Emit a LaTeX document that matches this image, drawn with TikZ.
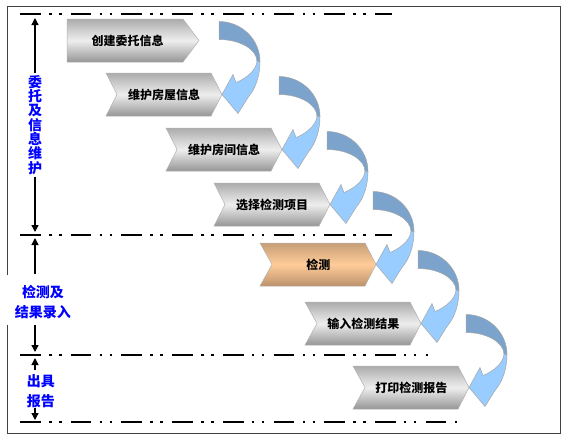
\documentclass[tikz,border=0pt]{standalone}
\usepackage{fontspec}
\newfontfamily\cjk{Noto Sans CJK SC}
\usetikzlibrary{arrows.meta}
\definecolor{arrdark}{RGB}{123,163,204}
\definecolor{arrlight}{RGB}{153,204,255}
\definecolor{gtop}{RGB}{172,172,172}
\definecolor{gmid}{RGB}{238,238,238}
\definecolor{gbot}{RGB}{150,150,150}
\definecolor{otop}{RGB}{198,158,118}
\definecolor{omid}{RGB}{255,204,153}
\definecolor{obot}{RGB}{188,146,108}
\definecolor{lblue}{RGB}{0,0,255}
\tikzset{
  graychev/.style={top color=gtop, bottom color=gbot, middle color=gmid, draw=black!30, line width=0.5pt},
  orangechev/.style={top color=otop, bottom color=obot, middle color=omid, draw=black!30, line width=0.5pt},
  chevlabel/.style={font=\cjk\bfseries\fontsize{12}{14}\selectfont, inner sep=0pt, text=black},
  sidelabel/.style={font=\cjk\bfseries\fontsize{14}{20.5}\selectfont, text=lblue, align=center, inner sep=0pt},
  vertlabel/.style={font=\cjk\bfseries\fontsize{14}{14.3}\selectfont, text=lblue, align=center, inner sep=2pt},
  scalearrow/.style={-{Triangle[length=7pt,width=7pt]}, line width=1.3pt, black},
  sepline/.style={line width=2.8pt, black, dash pattern=on 20.7pt off 8.3pt on 2.5pt off 7.5pt on 2.5pt off 9.2pt},
  pics/curvarrow/.style={code={
    \path[fill=arrdark, draw=black!35, line width=0.5pt]
      (-3,-73) .. controls (19.6,-73) and (38,-55) .. (38,-33)
      -- (35,-33) .. controls (35,-45) and (18,-55) .. (-3,-55) -- cycle;
    \path[fill=arrlight, draw=black!35, line width=0.5pt]
      (38,-33) .. controls (38,-18) and (33,-5) .. (26,3)
      -- (16,19) -- (0,0) -- (11,-20) -- (14,-12)
      .. controls (24,-16) and (34,-24) .. (35,-33) -- cycle;
  }}
}
% name, x, ytop, width, notch, tipdepth, style, label
\newcommand\chevshape[8]{%
  \path[#7] (#2,#3) -- ({#2+#4-#6},#3) -- ({#2+#4},{#3+21.5}) -- ({#2+#4-#6},{#3+43})
    -- (#2,{#3+43}) -- ({#2+#5},{#3+21.5}) -- cycle;
  \coordinate (#1tip) at ({#2+#4},{#3+21.5});
  \node[chevlabel] (#1) at ({#2+#4/2-(#6-#5)/3},{#3+21.5}) {#8};
}
\begin{document}
\begin{tikzpicture}[x=1pt,y=-1pt]
\useasboundingbox (0,0) rectangle (571,442);
% frame with gap behind the middle label
\draw[black!75, line width=1pt] (7,275) -- (7,6) -- (560,6) -- (560,433) -- (7,433) -- (7,325);
% separator lines
\coordinate (s1a) at (20,14);  \coordinate (s1b) at (392,14);
\coordinate (s2a) at (20,235); \coordinate (s2b) at (392,235);
\coordinate (s3a) at (20,355); \coordinate (s3b) at (428,355);
\coordinate (s4a) at (20,422); \coordinate (s4b) at (457,422);
\draw[sepline] (s1a) -- (s1b);
\draw[sepline] (s2a) -- (s2b);
\draw[sepline] (s3a) -- (s3b);
\draw[sepline] (s4a) -- (s4b);
% phase labels and scale arrows
\node[vertlabel] (lab1) at (35,125) {委\\托\\及\\信\\息\\维\\护};
\coordinate (v1a) at (35,18);
\coordinate (v1b) at (35,232);
\draw[scalearrow] (lab1.north) -- (v1a);
\draw[scalearrow] (lab1.south) -- (v1b);
\node[sidelabel] (lab2) at (43,302) {检测及\\结果录入};
\coordinate (v2s) at (35,274); \coordinate (v2a) at (35,238);
\coordinate (v2e) at (35,325); \coordinate (v2b) at (35,352);
\draw[scalearrow] (v2s) -- (v2a);
\draw[scalearrow] (v2e) -- (v2b);
\node[sidelabel] (lab3) at (41,391) {出具\\报告};
\coordinate (v3s) at (35,370); \coordinate (v3a) at (35,358);
\coordinate (v3e) at (35,408); \coordinate (v3b) at (35,420);
\draw[scalearrow] (v3s) -- (v3a);
\draw[scalearrow] (v3e) -- (v3b);
% process steps
\chevshape{c1}{67}{19}{132}{0}{16}{graychev}{创建委托信息}
\chevshape{c2}{106}{73}{116}{11}{11}{graychev}{维护房屋信息}
\chevshape{c3}{166}{128}{116}{11}{11}{graychev}{维护房间信息}
\chevshape{c4}{214}{183}{116}{11}{11}{graychev}{选择检测项目}
\chevshape{c5}{260}{243}{116}{12}{11}{orangechev}{检测}
\chevshape{c6}{305}{302}{116}{12}{11}{graychev}{输入检测结果}
\chevshape{c7}{353}{366}{116}{12}{11}{graychev}{打印检测报告}
% curved arrows into the next step
\pic at (c2tip) {curvarrow};
\pic at (c3tip) {curvarrow};
\pic at (c4tip) {curvarrow};
\pic at (c5tip) {curvarrow};
\pic at (c6tip) {curvarrow};
\pic at (c7tip) {curvarrow};
\end{tikzpicture}
\end{document}
